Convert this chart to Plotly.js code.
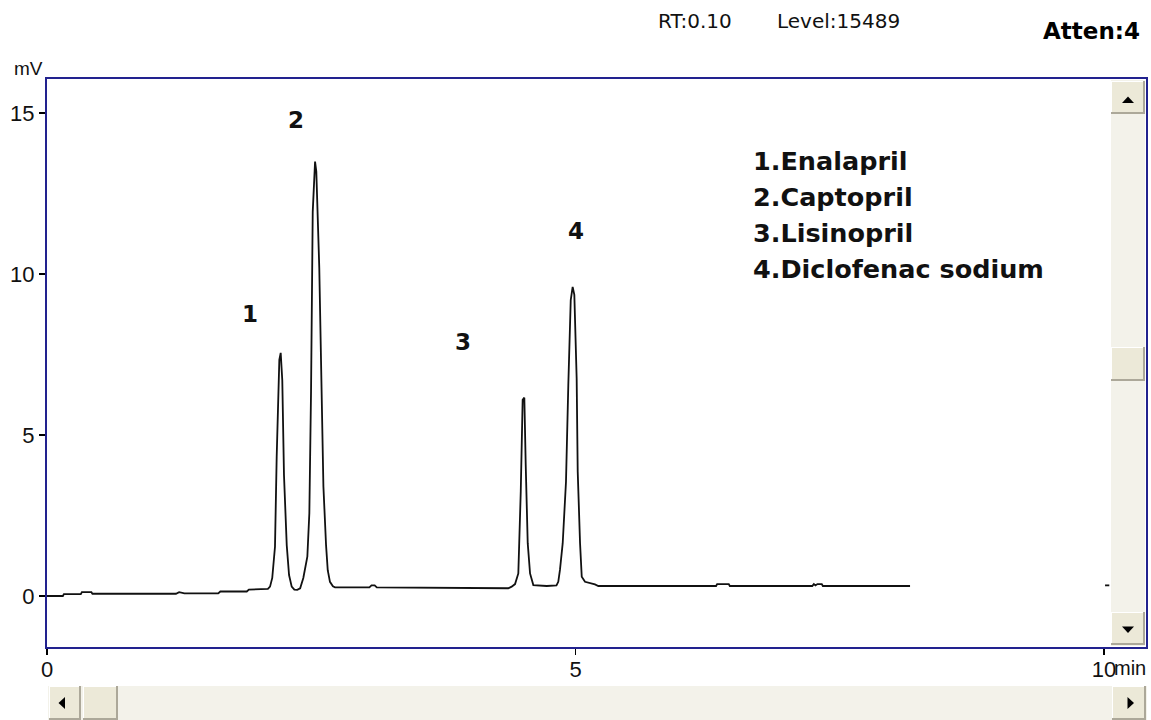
<!DOCTYPE html>
<html><head><meta charset="utf-8">
<script src="https://cdn.plot.ly/plotly-3.0.1.min.js"></script>
<style>html,body{margin:0;padding:0;background:#fff;}#chart{width:1151px;height:720px;}</style>
</head><body><div id="chart"></div>
<script>
// ---- data ----
const timeMin = [
  0.00,0.15,0.16,0.32,0.33,0.42,0.43,1.22,1.25,1.30,1.62,1.64,1.89,1.91,2.09,2.11,
  2.131,2.157,2.173,2.198,2.211,2.226,2.242,2.268,2.290,2.315,2.340,2.368,2.395,2.425,
  2.463,2.482,2.498,2.514,2.536,2.548,2.576,2.599,2.615,2.640,2.656,2.677,2.705,2.725,
  3.05,3.07,3.10,3.12,4.30,4.364,4.396,4.428,4.459,4.482,4.500,4.516,4.529,4.548,4.570,
  4.601,4.728,4.820,4.837,4.853,4.879,4.910,4.932,4.955,4.973,4.989,5.011,5.021,5.043,
  5.059,5.090,5.137,5.184,5.216,6.330,6.340,6.450,6.460,7.240,7.255,7.270,7.290,7.330,
  7.340,8.165,9.95,10.01,10.05
];
const signalMV = [
  0.00,0.00,0.06,0.06,0.12,0.12,0.07,0.07,0.12,0.08,0.08,0.14,0.14,0.20,0.22,0.29,
  0.56,1.53,4.33,7.33,7.55,6.70,3.76,1.58,0.65,0.29,0.20,0.19,0.24,0.56,
  1.22,2.58,6.35,11.93,13.49,13.18,10.19,6.50,3.40,1.58,0.80,0.44,0.30,0.27,
  0.27,0.33,0.33,0.27,0.24,0.24,0.29,0.37,0.70,3.24,6.09,6.16,4.07,1.64,0.70,
  0.34,0.31,0.33,0.44,0.81,1.64,3.55,6.55,9.19,9.60,9.35,6.76,3.86,1.64,
  0.60,0.44,0.41,0.36,0.31,0.31,0.37,0.37,0.31,0.31,0.37,0.33,0.37,0.37,
  0.31,0.31,null,0.33,0.33
];
const xTickVals = [0,5,10];
const xTickText = ['0','5','10'];
const yTickVals = [0,5,10,15];
const yTickText = ['0','5','10','15'];
const peakNumbers = ['1','2','3','4'];
const peakLabelTime = [1.92,2.356,3.936,5.005];
const peakLabelMV = [8.76,14.78,7.89,11.34];
const compounds = ['1.Enalapril','2.Captopril','3.Lisinopril','4.Diclofenac sodium'];
const statusTexts = ['RT:0.10','Level:15489'];
const attenText = 'Atten:4';
const yUnit = 'mV';
const xUnit = 'min';

// ---- geometry helpers (pixel -> paper) ----
const W = 1151, H = 720, L = 47, R = 5, T = 79, B = 73;
const PW = W - L - R, PH = H - T - B;
const px = x => (x - L) / PW;
const py = y => (H - B - y) / PH;

const navy = '#22228f';
const shapes = [];
function rect(x0,y0,x1,y1,fill,lineColor){
  shapes.push({type:'rect',xref:'paper',yref:'paper',x0:px(x0),x1:px(x1),y0:py(y1),y1:py(y0),
    fillcolor:fill,line:{width:lineColor?1:0,color:lineColor||fill},layer:'above'});
}
function seg(x0,y0,x1,y1,color,w){
  shapes.push({type:'line',xref:'paper',yref:'paper',x0:px(x0),x1:px(x1),y0:py(y0),y1:py(y1),
    line:{color:color,width:w||1},layer:'above'});
}
function button(x0,y0,x1,y1){
  rect(x0,y0,x1,y1,'#ece9d8');
  seg(x0,y0+0.5,x1,y0+0.5,'#ffffff',1);
  seg(x0+0.5,y0,x0+0.5,y1,'#ffffff',1);
  seg(x0,y1-1,x1,y1-1,'#aca899',2);
  seg(x1-1,y0,x1-1,y1,'#aca899',2);
}
function tri(pts){
  let p = 'M ' + pts.map(q => px(q[0]) + ' ' + py(q[1])).join(' L ') + ' Z';
  shapes.push({type:'path',xref:'paper',yref:'paper',path:p,fillcolor:'#000',line:{width:0},layer:'above'});
}
// vertical scrollbar
rect(1111,80,1145,646,'#f3f2ea');
button(1111,81,1145,114);
button(1111,347,1145,381);
button(1111,612,1145,645);
tri([[1122,103],[1134,103],[1128,96.5]]);
tri([[1122,626.5],[1134,626.5],[1128,633]]);
// horizontal scrollbar
rect(48,686,1147,720,'#f3f2ea');
button(49,686,81,720);
button(83,686,118,720);
button(1112,686,1146,720);
tri([[58.5,703],[65,697],[65,709]]);
tri([[1134,703],[1127.5,697],[1127.5,709]]);

const annotations = [];
const labelFont = {family:'DejaVu Sans', size:23, color:'#111'};
for (let i=0;i<peakNumbers.length;i++){
  annotations.push({x:peakLabelTime[i],y:peakLabelMV[i],xref:'x',yref:'y',text:'<b>'+peakNumbers[i]+'</b>',
    showarrow:false,font:labelFont,xanchor:'center',yanchor:'middle'});
}
const legendY = [161,197,233,269];
for (let i=0;i<compounds.length;i++){
  annotations.push({x:px(751),y:py(legendY[i]),xref:'paper',yref:'paper',text:'<b>'+compounds[i]+'</b>',
    showarrow:false,font:{family:'DejaVu Sans',size:25.5,color:'#111'},xanchor:'left',yanchor:'middle'});
}
annotations.push({x:px(656),y:py(21),xref:'paper',yref:'paper',text:statusTexts[0],showarrow:false,
  font:{family:'DejaVu Sans',size:20,color:'#111'},xanchor:'left',yanchor:'middle'});
annotations.push({x:px(775),y:py(21),xref:'paper',yref:'paper',text:statusTexts[1],showarrow:false,
  font:{family:'DejaVu Sans',size:20,color:'#111'},xanchor:'left',yanchor:'middle'});
annotations.push({x:px(1041),y:py(31),xref:'paper',yref:'paper',text:'<b>'+attenText+'</b>',showarrow:false,
  font:{family:'DejaVu Sans',size:23,color:'#000'},xanchor:'left',yanchor:'middle'});
annotations.push({x:px(28),y:py(69),xref:'paper',yref:'paper',text:yUnit,showarrow:false,
  font:{family:'Liberation Sans',size:19,color:'#111'},xanchor:'center',yanchor:'middle'});
annotations.push({x:px(1130),y:py(668),xref:'paper',yref:'paper',text:xUnit,showarrow:false,
  font:{family:'Liberation Sans',size:20,color:'#111'},xanchor:'center',yanchor:'middle'});

const trace = {x:timeMin,y:signalMV,type:'scatter',mode:'lines',connectgaps:false,
  line:{color:'#111',width:1.8},hoverinfo:'skip'};

const layout = {
  width:W,height:H,margin:{l:L,r:R,t:T,b:B,pad:0},
  paper_bgcolor:'#fff',plot_bgcolor:'#fff',showlegend:false,
  xaxis:{range:[0,PW/105.7],tickvals:xTickVals,ticktext:xTickText,showgrid:false,zeroline:false,
    showline:true,linecolor:navy,linewidth:2,mirror:true,ticks:'outside',ticklen:6,tickcolor:'#000',tickwidth:1.5,
    ticklabelstandoff:-4,
    tickfont:{family:'Liberation Sans',size:22,color:'#111'},fixedrange:true},
  yaxis:{range:[(596-(H-B))/32.2,(596-T)/32.2],tickvals:yTickVals,ticktext:yTickText,showgrid:false,zeroline:false,
    showline:true,linecolor:navy,linewidth:2,mirror:true,ticks:'outside',ticklen:6,tickcolor:'#000',tickwidth:1.5,
    tickfont:{family:'Liberation Sans',size:22,color:'#111'},fixedrange:true},
  shapes:shapes,annotations:annotations
};
Plotly.newPlot('chart',[trace],layout,{staticPlot:true,displayModeBar:false});
</script></body></html>
